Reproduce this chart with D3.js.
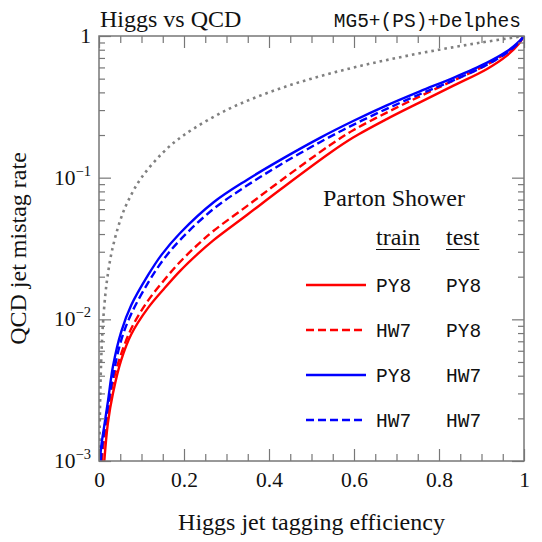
<!DOCTYPE html>
<html>
<head>
<meta charset="utf-8">
<script src="https://cdn.jsdelivr.net/npm/d3@7"></script>
<style>
  html, body { margin: 0; padding: 0; background: #fff; }
  svg { display: block; }
</style>
</head>
<body>
<div id="chart"></div>
<script>
// ---------------- data ----------------
const xTickValues = [0, 0.2, 0.4, 0.6, 0.8, 1];
const xTickLabels = ["0", "0.2", "0.4", "0.6", "0.8", "1"];
const xMinorTicks = [0.05,0.1,0.15,0.25,0.3,0.35,0.45,0.5,0.55,0.65,0.7,0.75,0.85,0.9,0.95];
const yTickValues = [0.001, 0.01, 0.1, 1];
const yTickExponents = ["−3", "−2", "−1", ""];
const yMinorMantissas = [2,3,4,5,6,7,8,9];

// PY8 train / PY8 test (red solid)
const rsX = [0.0125,0.021,0.033,0.052,0.076,0.115,0.155,0.191,0.233,0.269,0.348,0.426,0.544,0.598,0.677,0.755,0.834,0.912,0.959,0.99,1];
const rsY = [0.001,0.00186,0.00302,0.00513,0.00785,0.0120,0.0167,0.0220,0.0291,0.0361,0.0545,0.0822,0.150,0.192,0.259,0.340,0.446,0.583,0.724,0.897,1];
// HW7 train / PY8 test (red dashed)
const rdX = [0.007,0.009,0.021,0.029,0.045,0.076,0.115,0.155,0.191,0.233,0.269,0.348,0.426,0.544,0.598,0.677,0.755,0.834,0.912,0.959,0.99,1];
const rdY = [0.001,0.00120,0.00219,0.00316,0.00490,0.00861,0.0135,0.0192,0.0255,0.0338,0.0420,0.0630,0.0944,0.170,0.216,0.288,0.375,0.485,0.625,0.762,0.918,1];
// PY8 train / HW7 test (blue solid)
const bsX = [0.002,0.006,0.012,0.021,0.033,0.052,0.076,0.115,0.147,0.191,0.269,0.348,0.426,0.52,0.598,0.677,0.755,0.834,0.912,0.959,0.99,1];
const bsY = [0.001,0.00132,0.00174,0.00263,0.00468,0.00813,0.0126,0.0204,0.0285,0.0407,0.0668,0.0964,0.133,0.191,0.251,0.324,0.407,0.507,0.646,0.776,0.923,1];
// HW7 train / HW7 test (blue dashed)
const bdX = [0.004,0.008,0.017,0.033,0.052,0.076,0.115,0.147,0.191,0.269,0.348,0.426,0.52,0.598,0.677,0.755,0.834,0.912,0.959,0.99,1];
const bdY = [0.001,0.00132,0.00204,0.00398,0.00708,0.01096,0.0180,0.0253,0.0364,0.0600,0.0879,0.123,0.178,0.236,0.306,0.388,0.486,0.625,0.759,0.912,1];
// random-guess reference (gray dotted)
const rgX = [0.001,0.0015,0.002,0.003,0.005,0.007,0.01,0.015,0.02,0.03,0.05,0.07,0.1,0.15,0.2,0.3,0.4,0.5,0.6,0.7,0.8,0.9,1];
const rgY = [0.001,0.0015,0.002,0.003,0.005,0.007,0.01,0.015,0.02,0.03,0.05,0.07,0.1,0.15,0.2,0.3,0.4,0.5,0.6,0.7,0.8,0.9,1];

const legendTrain = ["PY8", "HW7", "PY8", "HW7"];
const legendTest  = ["PY8", "PY8", "HW7", "HW7"];

// ---------------- layout ----------------
const W = 542, H = 542;
const L = 99, R = 524, T = 36, B = 461;
const serif = "'Liberation Serif', 'Times New Roman', serif";
const mono = "'Liberation Mono', 'DejaVu Sans Mono', monospace";
const axisGray = "#777";

const svg = d3.select("#chart").append("svg").attr("width", W).attr("height", H);

const x = d3.scaleLinear().domain([0, 1]).range([L, R]);
const y = d3.scaleLog().domain([1e-3, 1]).range([B, T]);

const yMinor = [];
[0.001, 0.01, 0.1].forEach(d => yMinorMantissas.forEach(m => yMinor.push(d * m)));

svg.append("defs").append("clipPath").attr("id", "clip")
  .append("rect").attr("x", L).attr("y", T).attr("width", R - L).attr("height", B - T);

// ---------------- series ----------------
const series = [
  { xs: rgX, ys: rgY, color: "#808080", dash: "2.6,4", width: 2.6 },
  { xs: rsX, ys: rsY, color: "#ff0000", dash: null, width: 2.4 },
  { xs: rdX, ys: rdY, color: "#ff0000", dash: "8,4", width: 2.4 },
  { xs: bsX, ys: bsY, color: "#0000ff", dash: null, width: 2.4 },
  { xs: bdX, ys: bdY, color: "#0000ff", dash: "8,4", width: 2.4 }
];
const line = d3.line().x(d => x(d[0])).y(d => y(d[1])).curve(d3.curveCatmullRom.alpha(0.5));
const gLines = svg.append("g").attr("clip-path", "url(#clip)");
series.forEach(s => {
  gLines.append("path")
    .datum(s.xs.map((v, i) => [v, s.ys[i]]))
    .attr("d", line)
    .attr("fill", "none")
    .attr("stroke", s.color)
    .attr("stroke-width", s.width)
    .attr("stroke-dasharray", s.dash)
    .attr("stroke-linecap", "butt");
});

// ---------------- axes ----------------
function styleAxis(g) {
  g.select(".domain").remove();
  g.selectAll(".tick line").attr("stroke", axisGray).attr("stroke-width", 1.2);
}
// bottom
svg.append("g").attr("transform", `translate(0,${B})`)
  .call(d3.axisBottom(x).tickValues(xTickValues).tickSize(-12).tickPadding(11)
    .tickFormat((d, i) => xTickLabels[i]))
  .call(styleAxis)
  .call(g => g.selectAll("text").attr("font-family", serif).attr("font-size", 21.5).attr("fill", "#111"));
svg.append("g").attr("transform", `translate(0,${B})`)
  .call(d3.axisBottom(x).tickValues(xMinorTicks).tickSize(-7).tickFormat(""))
  .call(styleAxis);
// top
svg.append("g").attr("transform", `translate(0,${T})`)
  .call(d3.axisTop(x).tickValues(xTickValues).tickSize(-12).tickFormat(""))
  .call(styleAxis);
svg.append("g").attr("transform", `translate(0,${T})`)
  .call(d3.axisTop(x).tickValues(xMinorTicks).tickSize(-7).tickFormat(""))
  .call(styleAxis);
// left
svg.append("g").attr("transform", `translate(${L},0)`)
  .call(d3.axisLeft(y).tickValues(yTickValues).tickSize(-12).tickFormat(""))
  .call(styleAxis);
svg.append("g").attr("transform", `translate(${L},0)`)
  .call(d3.axisLeft(y).tickValues(yMinor).tickSize(-6).tickFormat(""))
  .call(styleAxis);
// right
svg.append("g").attr("transform", `translate(${R},0)`)
  .call(d3.axisRight(y).tickValues(yTickValues).tickSize(-12).tickFormat(""))
  .call(styleAxis);
svg.append("g").attr("transform", `translate(${R},0)`)
  .call(d3.axisRight(y).tickValues(yMinor).tickSize(-6).tickFormat(""))
  .call(styleAxis);

// frame
svg.append("rect").attr("x", L).attr("y", T).attr("width", R - L).attr("height", B - T)
  .attr("fill", "none").attr("stroke", axisGray).attr("stroke-width", 1.5);

// y tick labels with superscripts
const yl = svg.append("g");
yTickValues.forEach((v, i) => {
  const t = yl.append("text")
    .attr("x", 91).attr("y", y(v) + 7)
    .attr("text-anchor", "end")
    .attr("font-family", serif).attr("fill", "#111");
  if (yTickExponents[i] === "") {
    t.attr("font-size", 21.5).text("1");
  } else {
    t.append("tspan").attr("font-size", 21.5).text("10");
    t.append("tspan").attr("font-size", 14.5).attr("dy", -9).text(yTickExponents[i]);
  }
});

// axis titles
svg.append("text").attr("x", (L + R) / 2).attr("y", 530).attr("text-anchor", "middle")
  .attr("font-family", serif).attr("font-size", 24).attr("fill", "#111")
  .text("Higgs jet tagging efficiency");
svg.append("text").attr("transform", `translate(26,${(T + B) / 2}) rotate(-90)`)
  .attr("text-anchor", "middle")
  .attr("font-family", serif).attr("font-size", 24).attr("fill", "#111")
  .text("QCD jet mistag rate");

// header texts
svg.append("text").attr("x", 100).attr("y", 27)
  .attr("font-family", serif).attr("font-size", 24).attr("fill", "#111")
  .text("Higgs vs QCD");
svg.append("text").attr("x", 521).attr("y", 27).attr("text-anchor", "end")
  .attr("font-family", mono).attr("font-size", 19.5).attr("fill", "#111")
  .text("MG5+(PS)+Delphes");

// ---------------- legend ----------------
const lg = svg.append("g");
lg.append("text").attr("x", 323).attr("y", 206)
  .attr("font-family", serif).attr("font-size", 24).attr("fill", "#111").text("Parton Shower");
[["train", 376], ["test", 446]].forEach(([lab, lx]) => {
  const t = lg.append("text").attr("x", lx).attr("y", 245)
    .attr("font-family", serif).attr("font-size", 24).attr("fill", "#111").text(lab);
  const w = t.node().getComputedTextLength();
  lg.append("line").attr("x1", lx).attr("x2", lx + w).attr("y1", 249.5).attr("y2", 249.5)
    .attr("stroke", "#111").attr("stroke-width", 1);
});
const legendSeries = series.slice(1);
legendSeries.forEach((s, i) => {
  const ly = 285 + i * 45;
  lg.append("line").attr("x1", 306).attr("x2", 366).attr("y1", ly).attr("y2", ly)
    .attr("stroke", s.color).attr("stroke-width", s.width).attr("stroke-dasharray", s.dash);
  lg.append("text").attr("x", 376).attr("y", ly + 6.5)
    .attr("font-family", mono).attr("font-size", 19.5).attr("fill", "#111").text(legendTrain[i]);
  lg.append("text").attr("x", 446).attr("y", ly + 6.5)
    .attr("font-family", mono).attr("font-size", 19.5).attr("fill", "#111").text(legendTest[i]);
});
</script>
</body>
</html>
